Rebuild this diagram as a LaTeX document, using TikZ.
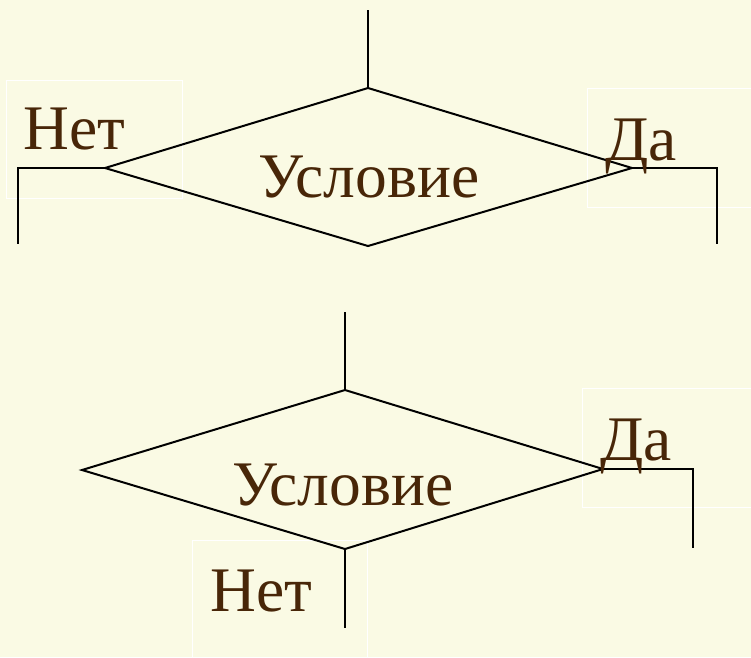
\documentclass[tikz,border=0pt]{standalone}
\usepackage{fontspec}
\setmainfont{Liberation Serif}
\definecolor{bg}{RGB}{250,250,228}
\definecolor{txt}{RGB}{72,38,8}
\begin{document}
\begin{tikzpicture}[x=1pt,y=-1pt,
  lbl/.style={anchor=base west,inner sep=0pt,text=txt,font=\fontsize{63.5}{63.5}\selectfont},
  ln/.style={draw=black,line width=2pt},
  tbox/.style={draw=white,line width=1pt}]
\fill[bg] (0,0) rectangle (751,657);
\useasboundingbox (0,0) rectangle (751,657);
% text boxes
\draw[tbox] (6,80) rectangle (182,198);
\draw[tbox] (587,88) rectangle (760,207);
\draw[tbox] (192,540) rectangle (367,670);
\draw[tbox] (582,388) rectangle (760,507);
% diamond 1
\coordinate (t1) at (368,10);
\coordinate (a1) at (368,88);
\coordinate (l1) at (105,168);
\coordinate (r1) at (632,168);
\coordinate (b1) at (368,246);
\coordinate (ln1) at (18,168);
\coordinate (le1) at (18,244);
\coordinate (rn1) at (717,168);
\coordinate (re1) at (717,244);
\draw[ln] (a1) -- (r1) -- (b1) -- (l1) -- cycle;
\draw[ln] (t1) -- (a1);
\draw[ln] (l1) -- (ln1) -- (le1);
\draw[ln] (r1) -- (rn1) -- (re1);
\node[lbl] (net1) at (23,149) {Нет};
\node[lbl] (usl1) at (258,197) {Условие};
\node[lbl] (da1) at (605,160) {Да};
% diamond 2
\coordinate (t2) at (345,312);
\coordinate (a2) at (345,390);
\coordinate (l2) at (82,470);
\coordinate (r2) at (603,469);
\coordinate (b2) at (345,549);
\coordinate (rn2) at (693,469);
\coordinate (re2) at (693,548);
\coordinate (be2) at (345,628);
\draw[ln] (a2) -- (r2) -- (b2) -- (l2) -- cycle;
\draw[ln] (t2) -- (a2);
\draw[ln] (r2) -- (rn2) -- (re2);
\draw[ln] (b2) -- (be2);
\node[lbl] (usl2) at (232,505) {Условие};
\node[lbl] (da2) at (600,460) {Да};
\node[lbl] (net2) at (210,611) {Нет};
\end{tikzpicture}
\end{document}
